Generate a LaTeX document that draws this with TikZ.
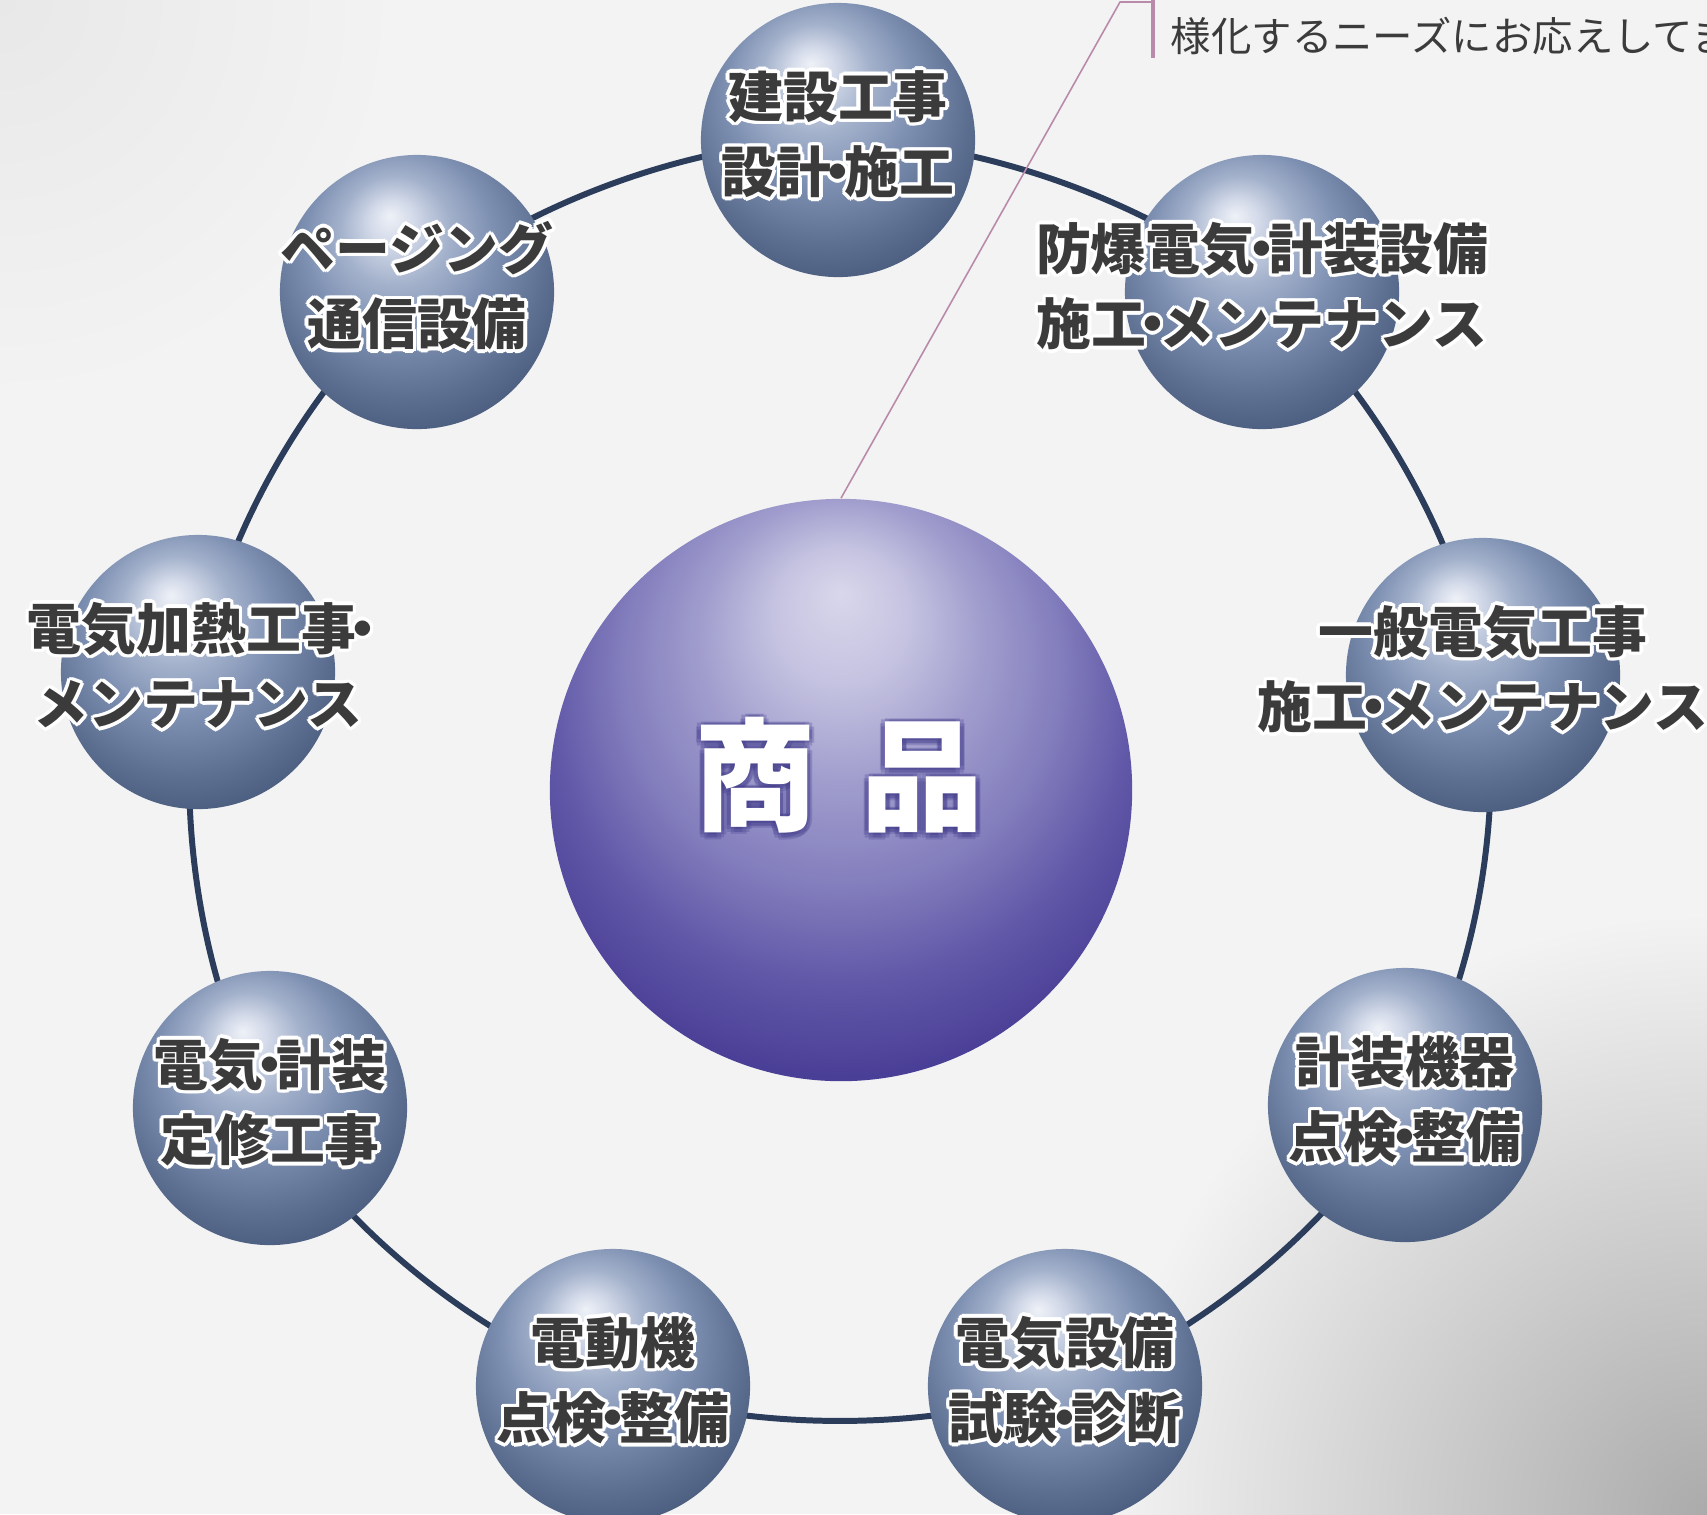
\documentclass[tikz,border=0pt]{standalone}
\usepackage{fontspec}
\newfontfamily\jpfont{Noto Sans CJK JP}
\usetikzlibrary{calc, backgrounds, positioning}

\definecolor{bgGray}{HTML}{F3F3F3}
\definecolor{ringBlue}{HTML}{2C3D5C}
\definecolor{txtGray}{HTML}{3B3B3B}
\definecolor{notePink}{HTML}{B98AA9}
\definecolor{glowBlue}{HTML}{3E3888}
% small spheres
\definecolor{sbA}{HTML}{EEF1F7}
\definecolor{sbB}{HTML}{D3DAE9}
\definecolor{sbC}{HTML}{A3B1CB}
\definecolor{sbD}{HTML}{7F91B3}
\definecolor{sbE}{HTML}{5C6F91}
\definecolor{sbF}{HTML}{3D4E6E}
% big sphere
\definecolor{bbA}{HTML}{D9D7EB}
\definecolor{bbB}{HTML}{C4C2E0}
\definecolor{bbC}{HTML}{A19ECE}
\definecolor{bbD}{HTML}{827DBC}
\definecolor{bbE}{HTML}{6158A8}
\definecolor{bbF}{HTML}{4A3F96}

\pgfdeclareradialshading{smallball}{\pgfpoint{-5bp}{14bp}}{color(0bp)=(sbA); color(4bp)=(sbB); color(10bp)=(sbC); color(17bp)=(sbD); color(26bp)=(sbE); color(36bp)=(sbF); color(50bp)=(sbF)}
\pgfdeclareradialshading{bigball}{\pgfpoint{0bp}{17bp}}{color(0bp)=(bbA); color(6bp)=(bbB); color(12bp)=(bbC); color(19bp)=(bbD); color(25bp)=(bbE); color(31bp)=(bbF); color(50bp)=(bbF)}

\newcommand\dt{\kern-.38em・\kern-.38em}
\newcommand\twoline[2]{\begin{tabular}{@{}c@{}}#1\\#2\end{tabular}}

\begin{document}
\begin{tikzpicture}[x=0.01cm, y=-0.01cm,
    sphere/.style={circle, inner sep=0pt, minimum size=2.74cm, shading=smallball},
    bigsphere/.style={circle, inner sep=0pt, minimum size=5.82cm, shading=bigball},
    lbl/.style={inner sep=0pt, text=txtGray, font=\jpfont\bfseries\fontsize{15.6pt}{21.4pt}\selectfont},
    halo/.style={lbl, text=white},
    bigtxt/.style={inner sep=0pt, text=white, font=\jpfont\bfseries\fontsize{34.7pt}{40pt}\selectfont},
    glow/.style={bigtxt, text=glowBlue, text opacity=0.25},
    note/.style={inner sep=0pt, text=txtGray, font=\jpfont\fontsize{11.5pt}{13pt}\selectfont},
    ring/.style={draw=ringBlue, line width=1.7pt},
    callout/.style={draw=notePink, line width=0.45pt},
    bar/.style={draw=notePink, line width=1.2pt}
  ]
  \useasboundingbox (0,0) rectangle (1707,1514);
  \clip (0,0) rectangle (1707,1514);

  % centre
  \node[bigsphere] (prod) at (841,790) {};
  \foreach \a in {0,45,...,315}
    \node[glow] (glow-\a) at ($(839,777)+(\a:5)$) {商\hspace{0.37em}品};
  \node[bigtxt] (prodlbl) at (839,775) {商\hspace{0.37em}品};

  % spheres on the ring
  \foreach \n/\x/\y in {1/838/140, 2/417/292, 3/198/672, 4/270/1108, 5/613/1386,
      6/1065/1386, 7/1405/1105, 8/1483/675, 9/1262/292}
    \node[sphere] (s\n) at (\x,\y) {};

  \begin{scope}[on background layer]
    \fill[bgGray] (0,0) rectangle (1707,1514);
    \shade[inner color=black!33, outer color=bgGray] (1707,1514) circle (6cm);
    \shade[inner color=black!9, outer color=bgGray] (0,0) circle (4cm);
    \draw[ring] plot[smooth cycle, tension=0.6] coordinates {(s1) (s2) (s3) (s4) (s5) (s6) (s7) (s8) (s9)};
  \end{scope}

  % callout
  \coordinate (kink) at (1120,2);
  \coordinate (bartop) at (1153,0);
  \coordinate (barbot) at (1153,58);
  \draw[callout] (prod.north) -- (kink) -- (kink -| bartop);
  \draw[bar] (bartop) -- (barbot);
  \node[note, anchor=west] (needs) at (1170,36) {様化するニーズにお応えしてま};

  % labels with a white halo
  \foreach \n/\la/\lb in {1/建設工事/設計\dt 施工, 2/ページング/通信設備,
      3/電気加熱工事\dt/メンテナンス, 4/電気\dt 計装/定修工事, 5/電動機/点検\dt 整備,
      6/電気設備/試験\dt 診断, 7/計装機器/点検\dt 整備,
      8/一般電気工事/施工\dt メンテナンス, 9/防爆電気\dt 計装設備/施工\dt メンテナンス} {
    \foreach \a in {0,30,...,330}
      \node[halo] (h\n-\a) at ($(s\n)+(\a:3.5)$) {\twoline{\la}{\lb}};
    \node[lbl] (t\n) at (s\n) {\twoline{\la}{\lb}};
  }
\end{tikzpicture}
\end{document}
